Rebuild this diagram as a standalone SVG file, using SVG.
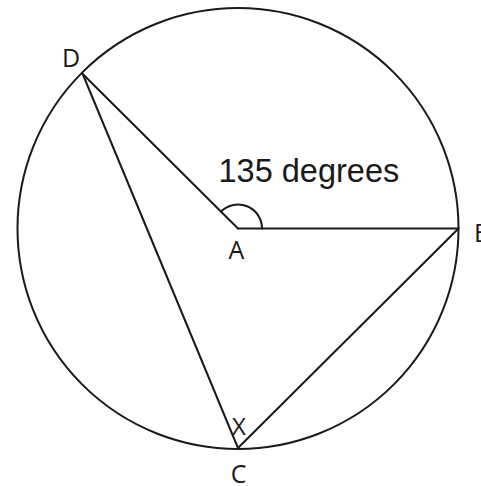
<svg xmlns="http://www.w3.org/2000/svg" width="481" height="486" viewBox="0 0 481 486">
<style>
.ln{stroke:#1a1a1a;stroke-width:2;fill:none;stroke-linecap:round}
.lbl{font-family:"Open Sans","Liberation Sans",sans-serif;font-size:25px;fill:#1a1a1a;text-anchor:middle}
.ang{font-family:"Liberation Sans",Arial,sans-serif;font-size:32.5px;fill:#1a1a1a}
</style>
<rect width="481" height="486" fill="#fff"/>
<g id="circle"><circle class="ln" cx="238" cy="228.5" r="220.5"/></g>
<g id="connectors">
<line class="ln" x1="82.7" y1="74" x2="238" y2="228.5"/>
<line class="ln" x1="238" y1="228.5" x2="458.5" y2="228.5"/>
<line class="ln" x1="82.7" y1="74" x2="238" y2="448"/>
<line class="ln" x1="238" y1="448" x2="458.5" y2="228.5"/>
<path class="ln" d="M262 228.5 A24 24 0 0 0 221 211.5"/>
</g>
<g id="D"><text class="lbl" x="71" y="67">D</text></g>
<g id="A"><text class="lbl" x="236.5" y="259">A</text></g>
<g id="B"><text class="lbl" x="474" y="241.5" text-anchor="start" style="text-anchor:start">B</text></g>
<g id="C"><text class="lbl" x="238.5" y="483">C</text></g>
<g id="X"><text class="lbl" x="239" y="435" style="font-size:24px">X</text></g>
<g id="angle-label"><text class="ang" x="218.5" y="181.5">135 degrees</text></g>
</svg>
